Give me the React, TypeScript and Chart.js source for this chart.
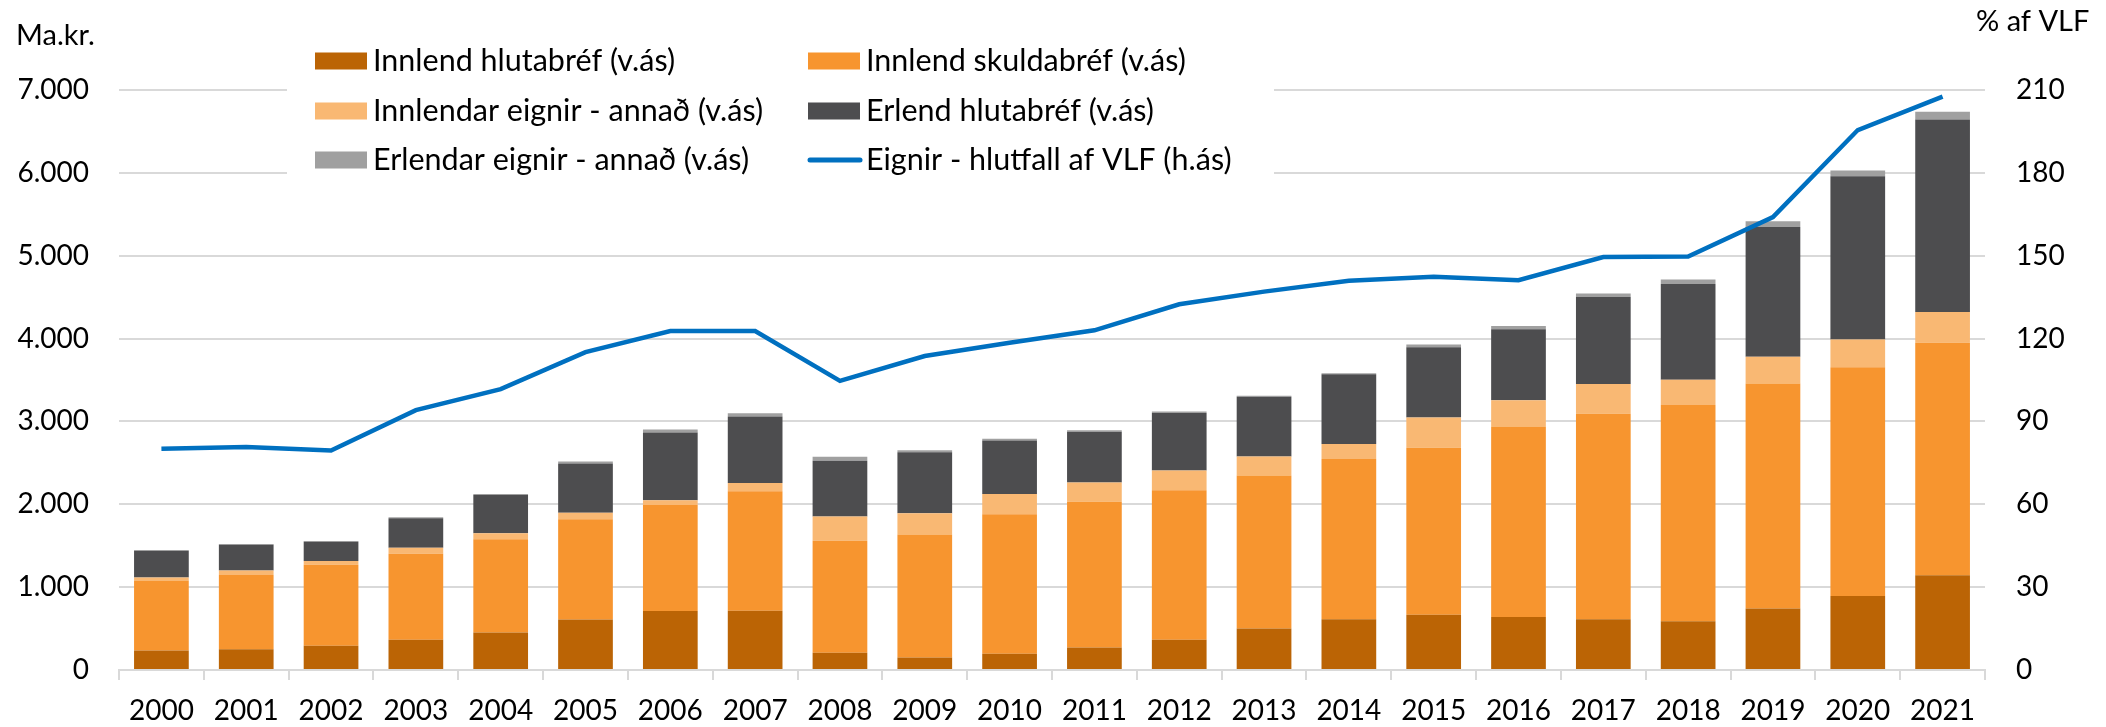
import React, { useEffect, useRef } from "react";
import { Chart, registerables } from "chart.js";

Chart.register(...registerables);

const categories = ["2000", "2001", "2002", "2003", "2004", "2005", "2006", "2007", "2008", "2009", "2010", "2011", "2012", "2013", "2014", "2015", "2016", "2017", "2018", "2019", "2020", "2021"];

const innlendHlutabref = [236, 249, 293, 364, 453, 609, 711, 716, 209, 151, 196, 271, 364, 502, 612, 668, 640, 612, 589, 741, 892, 1145];
const innlendSkuldabref = [844, 898, 978, 1040, 1125, 1209, 1280, 1440, 1351, 1485, 1684, 1760, 1805, 1845, 1936, 2014, 2300, 2480, 2610, 2716, 2761, 2806];
const innlendarAnnad = [36, 53, 45, 72, 71, 80, 58, 102, 293, 257, 244, 231, 240, 231, 179, 365, 315, 359, 303, 325, 337, 370];
const erlendHlutabref = [320, 311, 231, 355, 462, 595, 818, 800, 671, 734, 645, 614, 693, 720, 842, 847, 858, 1050, 1156, 1566, 1970, 2323];
const erlendarAnnad = [13, 9, 9, 13, 13, 23, 35, 40, 49, 26, 22, 17, 18, 13, 11, 34, 40, 44, 56, 67, 67, 95];
const eignirHlutfallVLF = [80.1, 80.7, 79.5, 94.1, 101.7, 115.1, 122.7, 122.7, 104.7, 113.7, 118.5, 123.0, 132.4, 137.0, 140.9, 142.4, 141.1, 149.5, 149.7, 164.0, 195.5, 207.6];

const seriesLabels = [
  "Innlend hlutabréf (v.ás)",
  "Innlend skuldabréf (v.ás)",
  "Innlendar eignir - annað (v.ás)",
  "Erlend hlutabréf (v.ás)",
  "Erlendar eignir - annað (v.ás)",
  "Eignir - hlutfall af VLF (h.ás)",
];
const seriesColors = ["#BB6405", "#F7952F", "#F9B873", "#4D4D4F", "#A0A0A0", "#0070C0"];

const leftTicks = [0, 1000, 2000, 3000, 4000, 5000, 6000, 7000];
const rightTicks = [0, 30, 60, 90, 120, 150, 180, 210];

const FONT = 'Lato, "Open Sans", "Noto Sans", sans-serif';
const FONT_SIZE = 28;
const LEGEND_FONT_SIZE = 30.5;
const TITLE_FONT_SIZE = 29;

const fmtThousands = (v: number) => String(v).replace(/\B(?=(\d{3})+(?!\d))/g, ".");

const legendPlugin = {
  id: "customLegend",
  beforeDatasetsDraw(chart: any) {
    const ctx = chart.ctx;
    ctx.save();
    ctx.fillStyle = "#ffffff";
    ctx.fillRect(287, 40, 987, 145);
    ctx.restore();
  },
  afterDraw(chart: any) {
    const ctx = chart.ctx;
    ctx.save();
    ctx.font = `${LEGEND_FONT_SIZE}px ${FONT}`;
    ctx.textBaseline = "middle";
    ctx.textAlign = "left";
    const colSwatch = [315, 808];
    const colText = [373, 866];
    const rowY = [61, 111, 160];
    chart.data.datasets.forEach((ds: any, i: number) => {
      const col = i % 2;
      const row = Math.floor(i / 2);
      const y = rowY[row];
      if (ds.type === "line") {
        ctx.strokeStyle = ds.borderColor;
        ctx.lineWidth = 5;
        ctx.lineCap = "round";
        ctx.beginPath();
        ctx.moveTo(colSwatch[col] + 2, y);
        ctx.lineTo(colSwatch[col] + 52, y);
        ctx.stroke();
      } else {
        ctx.fillStyle = ds.backgroundColor;
        ctx.fillRect(colSwatch[col], y - 8.5, 52, 17);
      }
      ctx.fillStyle = "#000000";
      ctx.fillText(ds.label, colText[col], y);
    });
    ctx.font = `${TITLE_FONT_SIZE}px ${FONT}`;
    ctx.fillText("Ma.kr.", 16, 36);
    ctx.fillText("% af VLF", 1976, 22);
    ctx.restore();
  },
};

export default function App() {
  const canvasRef = useRef<HTMLCanvasElement | null>(null);

  useEffect(() => {
    if (!canvasRef.current) return;
    const barData = [innlendHlutabref, innlendSkuldabref, innlendarAnnad, erlendHlutabref, erlendarAnnad];
    const datasets: any[] = barData.map((d, i) => ({
      type: "bar",
      label: seriesLabels[i],
      data: d,
      backgroundColor: seriesColors[i],
      borderWidth: 0,
      yAxisID: "y",
      stack: "s",
      order: 1,
      categoryPercentage: 1,
      barPercentage: 0.645,
    }));
    datasets.push({
      type: "line",
      label: seriesLabels[5],
      data: eignirHlutfallVLF,
      borderColor: seriesColors[5],
      backgroundColor: seriesColors[5],
      borderWidth: 4.5,
      pointRadius: 0,
      tension: 0,
      yAxisID: "y1",
      order: 0,
    });

    const chart = new Chart(canvasRef.current, {
      type: "bar",
      data: { labels: categories, datasets },
      options: {
        animation: false,
        responsive: false,
        maintainAspectRatio: false,
        layout: { padding: { top: 90, left: 0, right: 0, bottom: 0 } },
        plugins: {
          legend: { display: false },
          tooltip: { enabled: false },
          title: { display: false },
        },
        font: { family: FONT, size: FONT_SIZE },
        scales: {
          x: {
            stacked: true,
            grid: {
              offset: true,
              display: true,
              drawOnChartArea: false,
              drawTicks: true,
              tickLength: 10,
              color: "#d9d9d9",
              lineWidth: 2,
            },
            border: { display: true, color: "#d9d9d9", width: 2 },
            ticks: {
              font: { family: FONT, size: FONT_SIZE },
              color: "#000000",
              padding: 14,
              maxRotation: 0,
              autoSkip: false,
            },
            afterFit: (s: any) => {
              s.height = 57;
            },
          },
          y: {
            type: "linear",
            position: "left",
            stacked: true,
            min: 0,
            max: 7000,
            afterBuildTicks: (s: any) => {
              s.ticks = leftTicks.map((v) => ({ value: v }));
            },
            ticks: {
              font: { family: FONT, size: FONT_SIZE },
              color: "#000000",
              padding: 30,
              callback: (v: any) => fmtThousands(Number(v)),
            },
            grid: { color: "#d9d9d9", lineWidth: 2, drawTicks: false },
            border: { display: false },
            afterFit: (s: any) => {
              s.width = 119;
            },
          },
          y1: {
            type: "linear",
            position: "right",
            min: 0,
            max: 210,
            afterBuildTicks: (s: any) => {
              s.ticks = rightTicks.map((v) => ({ value: v }));
            },
            ticks: {
              font: { family: FONT, size: FONT_SIZE },
              color: "#000000",
              padding: 31,
            },
            grid: { display: false, drawOnChartArea: false, drawTicks: false },
            border: { display: false },
            afterFit: (s: any) => {
              s.width = 121;
            },
          },
        },
      },
      plugins: [legendPlugin],
    } as any);

    return () => chart.destroy();
  }, []);

  return (
    <div style={{ position: "absolute", left: 0, top: 0, width: 2106, height: 727, background: "#ffffff" }}>
      <canvas ref={canvasRef} width={2106} height={727} style={{ display: "block", width: 2106, height: 727 }} />
    </div>
  );
}
